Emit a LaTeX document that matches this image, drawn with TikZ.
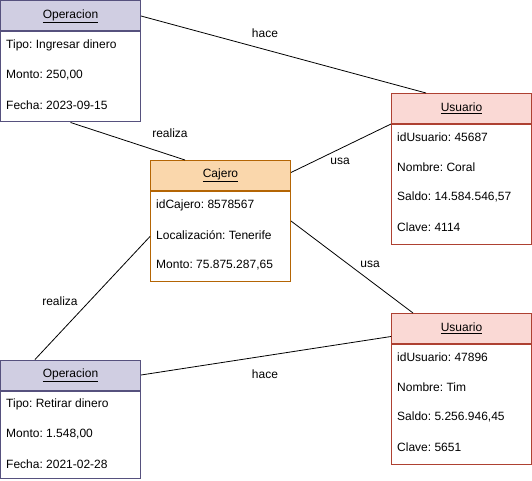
\documentclass[tikz,border=0pt]{standalone}
\usepackage{fontspec}
\setmainfont{Liberation Sans}
\frenchspacing
\definecolor{opfill}{HTML}{D0CEE2}
\definecolor{opline}{HTML}{56517E}
\definecolor{cajfill}{HTML}{FAD7AC}
\definecolor{cajline}{HTML}{B46504}
\definecolor{usfill}{HTML}{FAD9D5}
\definecolor{usline}{HTML}{AE4132}

\begin{document}
\begin{tikzpicture}[x=1pt,y=-1pt,font=\fontsize{12}{14}\selectfont,
  hdr/.style={draw=#1line,fill=#1fill,minimum width=140pt,minimum height=30pt,anchor=north west,inner sep=0pt,line width=1pt},
  cuerpo/.style={draw=#1line,fill=white,minimum width=140pt,anchor=north,inner sep=0pt,line width=1pt},
  attr/.style={anchor=west,inner sep=0pt},
  rel/.style={draw=black,line width=0.8pt},
  etiq/.style={inner sep=0pt}]
\useasboundingbox (0,0) rectangle (532,481);

% Operacion (arriba)
\node [hdr=op] (op1) at (0,0.5) {\underline{Operacion}};
\node [cuerpo=op,minimum height=90pt] (op1body) at (op1.south) {};
\node [attr] (op1tipo) at ([xshift=6pt,yshift=-14pt]op1.south west) {Tipo: Ingresar dinero};
\node [attr] (op1monto) at ([xshift=6pt,yshift=-44pt]op1.south west) {Monto: 250,00};
\node [attr] (op1fecha) at ([xshift=6pt,yshift=-74pt]op1.south west) {Fecha: 2023-09-15};

% Cajero
\node [hdr=caj] (caj) at (150,160) {\underline{Cajero}};
\node [cuerpo=caj,minimum height=90pt] (cajbody) at (caj.south) {};
\node [attr] (cajid) at ([xshift=6pt,yshift=-14pt]caj.south west) {idCajero: 8578567};
\node [attr] (cajloc) at ([xshift=6pt,yshift=-44pt]caj.south west) {Localización: Tenerife};
\node [attr] (cajmonto) at ([xshift=6pt,yshift=-74pt]caj.south west) {Monto: 75.875.287,65};

% Usuario (arriba)
\node [hdr=us] (us1) at (391,93) {\underline{Usuario}};
\node [cuerpo=us,minimum height=120pt] (us1body) at (us1.south) {};
\node [attr] (us1id) at ([xshift=6pt,yshift=-13pt]us1.south west) {idUsuario: 45687};
\node [attr] (us1nombre) at ([xshift=6pt,yshift=-43pt]us1.south west) {Nombre: Coral};
\node [attr] (us1saldo) at ([xshift=6pt,yshift=-73pt]us1.south west) {Saldo: 14.584.546,57};
\node [attr] (us1clave) at ([xshift=6pt,yshift=-103pt]us1.south west) {Clave: 4114};

% Usuario (abajo)
\node [hdr=us] (us2) at (391,313) {\underline{Usuario}};
\node [cuerpo=us,minimum height=120pt] (us2body) at (us2.south) {};
\node [attr] (us2id) at ([xshift=6pt,yshift=-13pt]us2.south west) {idUsuario: 47896};
\node [attr] (us2nombre) at ([xshift=6pt,yshift=-43pt]us2.south west) {Nombre: Tim};
\node [attr] (us2saldo) at ([xshift=6pt,yshift=-73pt]us2.south west) {Saldo: 5.256.946,45};
\node [attr] (us2clave) at ([xshift=6pt,yshift=-103pt]us2.south west) {Clave: 5651};

% Operacion (abajo)
\node [hdr=op] (op2) at (0,359.5) {\underline{Operacion}};
\node [cuerpo=op,minimum height=87.5pt] (op2body) at (op2.south) {};
\node [attr] (op2tipo) at ([xshift=6pt,yshift=-14pt]op2.south west) {Tipo: Retirar dinero};
\node [attr] (op2monto) at ([xshift=6pt,yshift=-44pt]op2.south west) {Monto: 1.548,00};
\node [attr] (op2fecha) at ([xshift=6pt,yshift=-74pt]op2.south west) {Fecha: 2021-02-28};

% relaciones
\draw [rel] (op1.east) -- ([xshift=35pt]us1.north west);
\draw [rel] (op1body.south) -- ([xshift=35pt]caj.north west);
\draw [rel] ([yshift=3pt]caj.east) -- (us1.south west);
\draw [rel] ([yshift=-30pt]caj.south east) -- ([xshift=22pt]us2.north west);
\draw [rel] (cajbody.west) -- ([xshift=35pt]op2.north west);
\draw [rel] (op2.east) -- ([yshift=-8pt]us2.west);

% etiquetas
\node [etiq] (l1) at (265,33) {hace};
\node [etiq] (l2) at (170,133) {realiza};
\node [etiq] (l3) at (340,161) {usa};
\node [etiq] (l4) at (370,264) {usa};
\node [etiq] (l5) at (60,301) {realiza};
\node [etiq] (l6) at (265,374) {hace};
\end{tikzpicture}
\end{document}
